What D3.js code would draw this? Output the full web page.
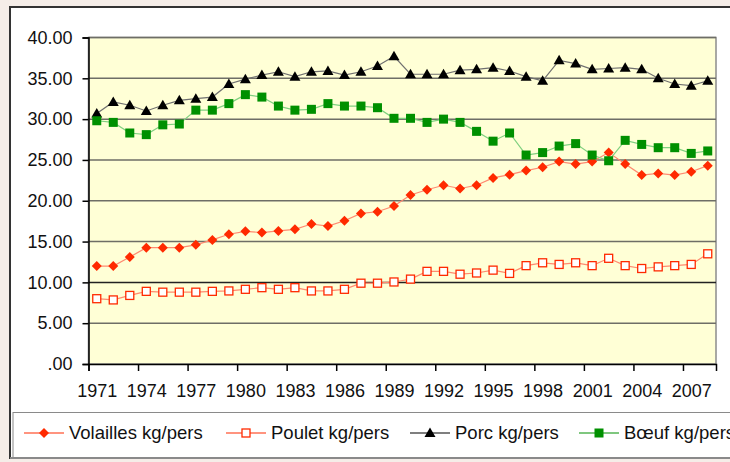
<!DOCTYPE html>
<html>
<head>
<meta charset="utf-8">
<script src="https://cdn.jsdelivr.net/npm/d3@7"></script>
<style>
  body { margin: 0; background: #f5ede8; }
  svg { display: block; font-family: Arial, "Liberation Sans", sans-serif; }
</style>
</head>
<body>
<script>
// Years 1971-2008
const years = d3.range(1971, 2009)

const volailles = [12.0, 12.0, 13.1, 14.25, 14.25, 14.25, 14.6, 15.2, 15.9, 16.25,
  16.1, 16.3, 16.5, 17.15, 16.9, 17.55, 18.45, 18.65, 19.35, 20.7,
  21.35, 21.9, 21.5, 21.9, 22.8, 23.2, 23.7, 24.1, 24.8, 24.5,
  24.8, 25.9, 24.5, 23.15, 23.35, 23.15, 23.55, 24.3]

const poulet = [8.0, 7.85, 8.4, 8.9, 8.8, 8.8, 8.8, 8.9, 8.95, 9.15,
  9.35, 9.15, 9.35, 8.95, 8.95, 9.15, 9.9, 9.9, 10.05, 10.4,
  11.35, 11.35, 11.0, 11.15, 11.5, 11.1, 12.05, 12.4, 12.2, 12.4,
  12.05, 12.95, 12.05, 11.7, 11.9, 12.05, 12.2, 13.5]

const porc = [30.7, 32.1, 31.7, 31.0, 31.7, 32.3, 32.5, 32.7, 34.3, 34.9,
  35.4, 35.8, 35.2, 35.8, 35.9, 35.4, 35.8, 36.5, 37.7, 35.5,
  35.5, 35.5, 36.0, 36.1, 36.3, 35.9, 35.2, 34.7, 37.2, 36.8,
  36.1, 36.2, 36.3, 36.1, 35.0, 34.3, 34.1, 34.7]

const boeuf = [29.8, 29.6, 28.3, 28.1, 29.3, 29.4, 31.1, 31.1, 31.9, 33.0,
  32.7, 31.6, 31.1, 31.2, 31.9, 31.6, 31.6, 31.4, 30.1, 30.1,
  29.6, 30.0, 29.6, 28.5, 27.3, 28.3, 25.6, 25.9, 26.7, 27.0,
  25.6, 24.9, 27.4, 26.9, 26.5, 26.5, 25.8, 26.1]

const yTicks = [0, 5, 10, 15, 20, 25, 30, 35, 40]
const xTicks = d3.range(1971, 2009, 3)

const series = [
  { name: 'Volailles kg/pers', values: volailles, line: '#ff8a70', legendLine: '#ff2a00', marker: 'diamond' },
  { name: 'Poulet kg/pers', values: poulet, line: '#ff8a70', legendLine: '#ff2a00', marker: 'open' },
  { name: 'Porc kg/pers', values: porc, line: '#707070', legendLine: '#000', marker: 'triangle' },
  { name: 'Bœuf kg/pers', values: boeuf, line: '#80d080', legendLine: '#009000', marker: 'square' }
]

const W = 730, H = 462
const plot = { left: 88.5, top: 37.5, right: 716, bottom: 364 }

const svg = d3.select('body').append('svg').attr('width', W).attr('height', H)

// chart area (white, dark border)
svg.append('rect').attr('x', 10).attr('y', 7).attr('width', 740).attr('height', 451)
  .attr('fill', '#fff').attr('stroke', '#333').attr('stroke-width', 2)

const x = d3.scaleLinear().domain([1971, 2009]).range([plot.left, plot.right])
const y = d3.scaleLinear().domain([0, 40]).range([plot.bottom, plot.top])
const half = (x(1972) - x(1971)) / 2

// plot background
svg.append('rect').attr('x', plot.left).attr('y', plot.top)
  .attr('width', plot.right - plot.left).attr('height', plot.bottom - plot.top)
  .attr('fill', '#ffffd6').attr('stroke', '#8c8c8c').attr('stroke-width', 1.5)

// gridlines
svg.append('g').selectAll('line').data(yTicks.filter(d => d > 0)).join('line')
  .attr('x1', plot.left).attr('x2', plot.right)
  .attr('y1', d => y(d)).attr('y2', d => y(d))
  .attr('stroke', d => d === 10 ? '#222' : '#6e6e66').attr('stroke-width', 1.5)

// y axis
const yaxis = d3.axisLeft(y).tickValues(yTicks).tickSize(6).tickPadding(10)
  .tickFormat(d => d === 0 ? '.00' : d3.format('.2f')(d))
const gy = svg.append('g').attr('transform', `translate(${plot.left},0)`).call(yaxis)
gy.select('.domain').attr('stroke', '#000').attr('stroke-width', 1.5)
gy.selectAll('.tick line').attr('stroke', '#000').attr('stroke-width', 1.5)
gy.selectAll('text').attr('font-size', 18).attr('fill', '#111').attr('font-family', 'Arial, "Liberation Sans", sans-serif')

// x axis, ticks between categories, labels at category centers
const xaxis = d3.axisBottom(x).tickValues(xTicks).tickSize(7).tickPadding(13).tickFormat(d3.format('d'))
const gx = svg.append('g').attr('transform', `translate(0,${plot.bottom})`).call(xaxis)
gx.select('.domain').attr('stroke', '#000').attr('stroke-width', 1.5)
gx.selectAll('.tick line').attr('stroke', '#000').attr('stroke-width', 1.5)
gx.selectAll('text').attr('x', half).attr('font-size', 18).attr('fill', '#111').attr('font-family', 'Arial, "Liberation Sans", sans-serif')

const cx = i => x(years[i] + 0.5)

function drawMarker(g, type, px, py) {
  if (type === 'diamond') {
    g.append('path').attr('d', `M${px},${py - 5}L${px + 5},${py}L${px},${py + 5}L${px - 5},${py}Z`).attr('fill', '#ff2a00')
  } else if (type === 'open') {
    g.append('rect').attr('x', px - 4).attr('y', py - 4).attr('width', 8).attr('height', 8)
      .attr('fill', '#fff').attr('stroke', '#ff2a00').attr('stroke-width', 1.3)
  } else if (type === 'triangle') {
    g.append('path').attr('d', `M${px},${py - 5.5}L${px + 5.5},${py + 4}L${px - 5.5},${py + 4}Z`).attr('fill', '#000')
  } else {
    g.append('rect').attr('x', px - 4.5).attr('y', py - 4.5).attr('width', 9).attr('height', 9).attr('fill', '#009000')
  }
}

const line = d3.line().x((d, i) => cx(i)).y(d => y(d))

series.forEach(s => {
  const g = svg.append('g')
  g.append('path').datum(s.values).attr('d', line)
    .attr('fill', 'none').attr('stroke', s.line).attr('stroke-width', 1.2)
  s.values.forEach((v, i) => drawMarker(g, s.marker, cx(i), y(v)))
})

// legend
svg.append('rect').attr('x', 13).attr('y', 412.5).attr('width', 740).attr('height', 45)
  .attr('fill', '#fff').attr('stroke', '#8a8a8a').attr('stroke-width', 1)
svg.append('line').attr('x1', 10).attr('x2', 730).attr('y1', 458).attr('y2', 458)
  .attr('stroke', '#8a8a8a').attr('stroke-width', 2)

const legendX = [24, 226, 410, 579]
series.forEach((s, i) => {
  const g = svg.append('g')
  const lx = legendX[i], ly = 433
  g.append('line').attr('x1', lx).attr('x2', lx + 40).attr('y1', ly).attr('y2', ly)
    .attr('stroke', s.legendLine).attr('stroke-width', 1.2)
  drawMarker(g, s.marker, lx + 20, ly)
  g.append('text').attr('x', lx + 45).attr('y', ly).attr('dy', '0.35em')
    .attr('font-size', 18.5).attr('fill', '#111').text(s.name)
})
</script>
</body>
</html>
